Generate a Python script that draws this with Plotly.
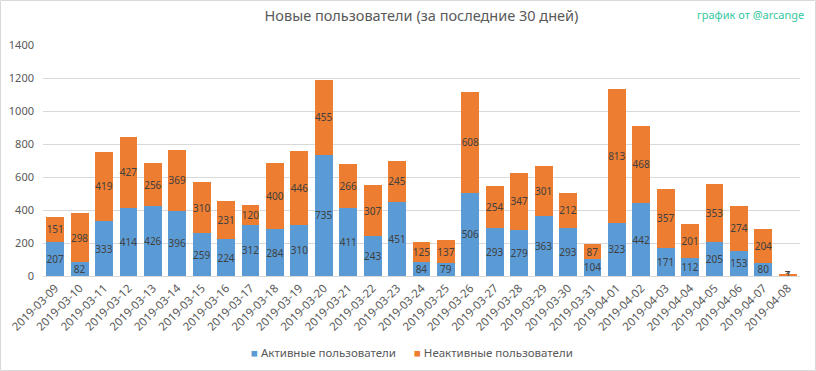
import plotly.graph_objects as go

dates = ["2019-03-09", "2019-03-10", "2019-03-11", "2019-03-12", "2019-03-13", "2019-03-14",
         "2019-03-15", "2019-03-16", "2019-03-17", "2019-03-18", "2019-03-19", "2019-03-20",
         "2019-03-21", "2019-03-22", "2019-03-23", "2019-03-24", "2019-03-25", "2019-03-26",
         "2019-03-27", "2019-03-28", "2019-03-29", "2019-03-30", "2019-03-31", "2019-04-01",
         "2019-04-02", "2019-04-03", "2019-04-04", "2019-04-05", "2019-04-06", "2019-04-07",
         "2019-04-08"]
active = [207, 82, 333, 414, 426, 396, 259, 224, 312, 284, 310, 735, 411, 243, 451, 84, 79,
          506, 293, 279, 363, 293, 104, 323, 442, 171, 112, 205, 153, 80, 1]
inactive = [151, 298, 419, 427, 256, 369, 310, 231, 120, 400, 446, 455, 266, 307, 245, 125, 137,
            608, 254, 347, 301, 212, 87, 813, 468, 357, 201, 353, 274, 204, 7]
series_names = ["Активные пользователи", "Неактивные пользователи"]
colors = ["#5B9BD5", "#ED7D31"]

FONT = "Noto Sans"
GRAY = "#595959"
W, H = 816, 371
L, R, T, B = 43, 16, 45, 95
PW, PH = W - L - R, H - T - B


def px_x(x):
    return (x - L) / PW


def px_y(y):
    return (H - B - y) / PH


fig = go.Figure()
for vals, name, col in zip([active, inactive], series_names, colors):
    fig.add_trace(go.Bar(x=dates, y=vals, name=name,
                         marker=dict(color=col, line=dict(width=0)),
                         text=vals, textposition="inside", insidetextanchor="middle",
                         textangle=0,
                         textfont=dict(color="#404040", size=10, family=FONT)))

legend_text = ("<span style='color:%s'>■</span> %s      <span style='color:%s'>■</span> %s"
               % (colors[0], series_names[0], colors[1], series_names[1]))

fig.update_layout(
    barmode="stack",
    bargap=0.27,
    width=W, height=H,
    margin=dict(l=L, r=R, t=T, b=B, autoexpand=False),
    paper_bgcolor="white", plot_bgcolor="white",
    font=dict(family=FONT, color=GRAY, size=11),
    uniformtext=dict(minsize=10, mode="show"),
    showlegend=False,
    title=dict(text="Новые пользователи (за последние 30 дней)", x=0.5, xanchor="center",
               y=1 - 11 / H, yanchor="top", xref="paper",
               font=dict(size=14.5, color=GRAY, family=FONT)),
    xaxis=dict(type="category", tickangle=-45, showgrid=False, showline=True,
               linecolor="#d9d9d9", ticks="", automargin=False,
               tickfont=dict(size=11.5, color=GRAY)),
    yaxis=dict(range=[0, 1400], dtick=200, showgrid=True, gridcolor="#d9d9d9",
               zeroline=False, ticks="", automargin=False, ticklabelstandoff=8,
               tickfont=dict(size=11, color=GRAY)),
    annotations=[
        dict(text="график от @arcange", xref="paper", yref="paper",
             x=px_x(806), y=px_y(14), xanchor="right", yanchor="middle",
             showarrow=False, font=dict(size=11, color="#33C89E", family=FONT)),
        dict(text=legend_text, xref="paper", yref="paper",
             x=px_x(412), y=px_y(352), xanchor="center", yanchor="middle",
             showarrow=False, font=dict(size=11.5, color=GRAY, family=FONT)),
    ],
    shapes=[dict(type="rect", xref="paper", yref="paper",
                 x0=px_x(0.5), x1=px_x(W - 0.5), y0=px_y(0.5), y1=px_y(H - 0.5),
                 line=dict(color="#d9d9d9", width=1), layer="below")],
)

fig.write_html("out.html", config={"displayModeBar": False},
               post_script="document.body.style.margin='0';document.body.style.overflow='hidden';")
